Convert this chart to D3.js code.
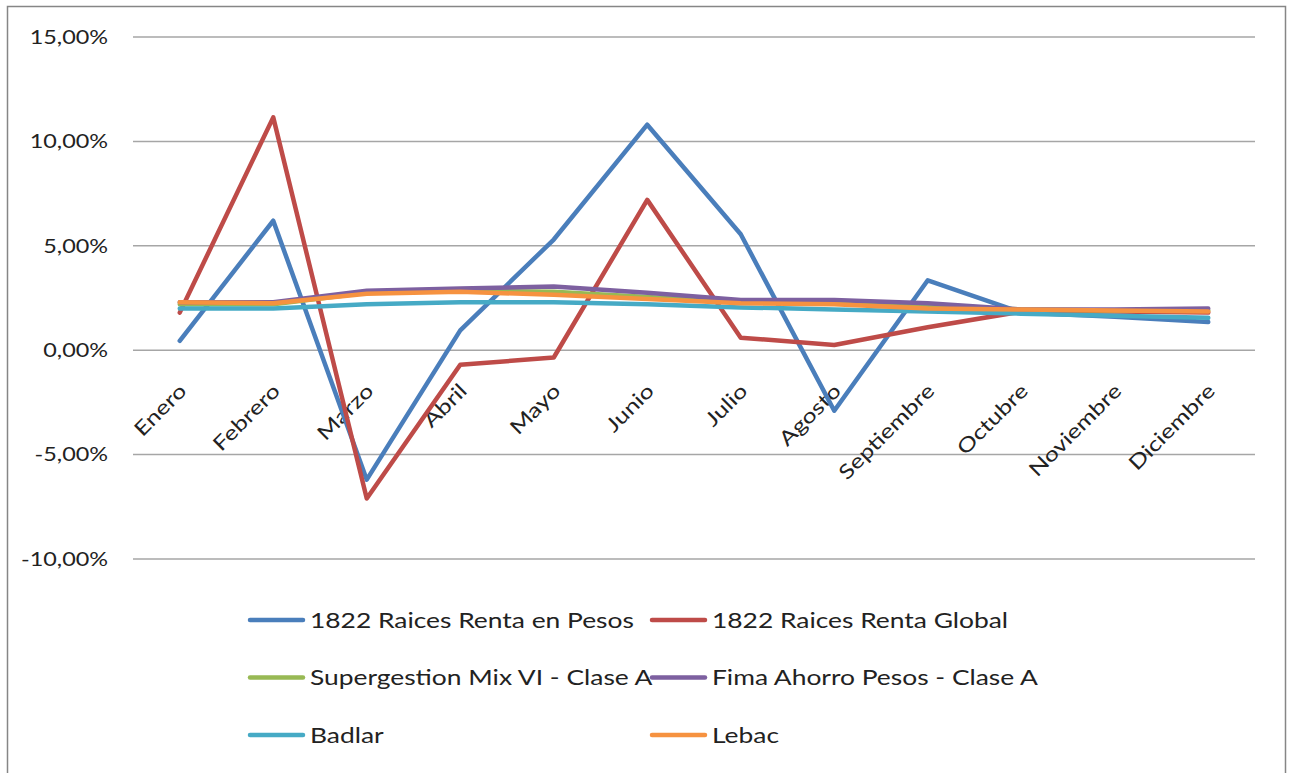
<!DOCTYPE html>
<html>
<head>
<meta charset="utf-8">
<script src="https://cdn.jsdelivr.net/npm/d3@7"></script>
<style>
  body { margin: 0; background: #fff; }
  svg text { font-family: Lato, "Open Sans", sans-serif; fill: #222; }
</style>
</head>
<body>
<div id="chart"></div>
<script>
// datos (rendimiento mensual, %)
const months = ['Enero', 'Febrero', 'Marzo', 'Abril', 'Mayo', 'Junio', 'Julio', 'Agosto', 'Septiembre', 'Octubre', 'Noviembre', 'Diciembre'];
const seriesNames = ['1822 Raices Renta en Pesos', '1822 Raices Renta Global', 'Supergestion Mix VI - Clase A', 'Fima Ahorro Pesos - Clase A', 'Badlar', 'Lebac'];
const rentaPesos = [0.45, 6.2, -6.2, 0.95, 5.3, 10.8, 5.55, -2.9, 3.35, 1.8, 1.6, 1.35];
const rentaGlobal = [1.8, 11.15, -7.1, -0.7, -0.35, 7.2, 0.6, 0.25, 1.1, 1.85, 1.85, 1.8];
const supergestion = [2.2, 2.2, 2.75, 2.85, 2.8, 2.55, 2.3, 2.3, 2.1, 1.95, 1.9, 1.9];
const fima = [2.3, 2.3, 2.85, 2.95, 3.05, 2.75, 2.4, 2.4, 2.25, 1.95, 1.95, 2.0];
const badlar = [2.0, 2.0, 2.2, 2.3, 2.3, 2.2, 2.05, 1.95, 1.85, 1.75, 1.65, 1.55];
const lebac = [2.3, 2.25, 2.7, 2.8, 2.65, 2.45, 2.25, 2.2, 2.0, 1.95, 1.9, 1.85];
const yTicks = [-10, -5, 0, 5, 10, 15];
const colors = ['#4A7EBB', '#BE4B48', '#98B954', '#7D60A0', '#46AAC5', '#F69240'];

const allValues = [rentaPesos, rentaGlobal, supergestion, fima, badlar, lebac];

let width = 1293;
let height = 773;
let stretch = 1.2; // el texto original es más ancho que Lato

let svg = d3.select('#chart').append('svg').attr('width', width).attr('height', height);

// marco exterior
svg.append('rect')
  .attr('x', 7.5).attr('y', 6.5)
  .attr('width', 1278).attr('height', 780)
  .attr('fill', 'none').attr('stroke', '#868686').attr('stroke-width', 1.5);

let x = d3.scalePoint().domain(months).range([133, 1255]).padding(0.5);
let y = d3.scaleLinear().domain([-10, 15]).range([559, 37]);

// grilla
svg.append('g').selectAll('line')
  .data(yTicks)
  .enter().append('line')
  .attr('x1', 133).attr('x2', 1255)
  .attr('y1', d => y(d)).attr('y2', d => y(d))
  .attr('stroke', '#A6A6A6').attr('stroke-width', 1.5);

// etiquetas eje y
svg.append('g').selectAll('text')
  .data(yTicks)
  .enter().append('text')
  .attr('transform', d => 'translate(108,' + y(d) + ') scale(' + stretch + ',1)')
  .attr('dy', '0.35em')
  .attr('text-anchor', 'end')
  .attr('font-size', '19.5px')
  .text(d => d3.format('.2f')(d).replace('.', ',').replace('−', '-') + '%');

// etiquetas eje x (rotadas)
svg.append('g').selectAll('text')
  .data(months)
  .enter().append('text')
  .attr('transform', d => 'translate(' + (x(d) + 8) + ',' + (y(0) + 42) + ') rotate(-45) scale(1.25,1)')
  .attr('text-anchor', 'end')
  .attr('font-size', '20px')
  .text(d => d);

// líneas
let line = d3.line()
  .x((d, i) => x(months[i]))
  .y(d => y(d));

svg.append('g').selectAll('path')
  .data(allValues)
  .enter().append('path')
  .attr('d', d => line(d))
  .attr('fill', 'none')
  .attr('stroke', (d, i) => colors[i])
  .attr('stroke-width', 4.5)
  .attr('stroke-linejoin', 'round')
  .attr('stroke-linecap', 'round');

// leyenda
let legend = svg.append('g').selectAll('g')
  .data(seriesNames)
  .enter().append('g')
  .attr('transform', (d, i) => 'translate(' + (i % 2 === 0 ? 250 : 652) + ',' + (620 + Math.floor(i / 2) * 57.5) + ')');

legend.append('line')
  .attr('x1', 0).attr('x2', 53)
  .attr('stroke', (d, i) => colors[i])
  .attr('stroke-width', 4.5)
  .attr('stroke-linecap', 'round');

legend.append('text')
  .attr('transform', 'translate(60,0) scale(' + stretch + ',1)')
  .attr('dy', '0.35em')
  .attr('font-size', '22px')
  .text(d => d);
</script>
</body>
</html>
